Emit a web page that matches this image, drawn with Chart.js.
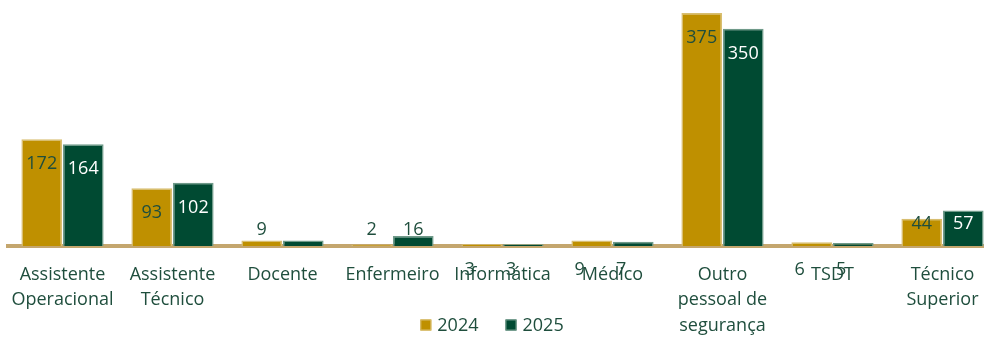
<!DOCTYPE html>
<html>
<head>
<meta charset="utf-8">
<script src="https://cdn.jsdelivr.net/npm/chart.js@4/dist/chart.umd.min.js"></script>
<style>
  html, body { margin: 0; padding: 0; background: #fff; overflow: hidden; }
  #wrap { position: relative; width: 1000px; height: 338px; }
</style>
</head>
<body>
<div id="wrap"><canvas id="chart"></canvas></div>
<script>
// Staff headcount per career group, 2024 vs 2025
const categories = [
  ['Assistente', 'Operacional'],
  ['Assistente', 'Técnico'],
  'Docente',
  'Enfermeiro',
  'Informática',
  'Médico',
  ['Outro', 'pessoal de', 'segurança'],
  'TSDT',
  ['Técnico', 'Superior']
];
const seriesNames = ['2024', '2025'];
const values2024 = [172, 93, 9, 2, 3, 9, 375, 6, 44];
const values2025 = [164, 102, 9, 16, 3, 7, 350, 5, 57];

// where each value label sits: inside the bar top, just above the axis, below the axis, or not drawn
const spots2024 = ['in', 'in', 'above', 'above', 'below', 'below', 'in', 'below', 'in'];
const spots2025 = ['in', 'in', 'none', 'above', 'below', 'below', 'in', 'below', 'in'];

const GOLD = '#BF9000';
const GREEN = '#004A32';
const INK = '#1F4E3D';
const FONT = '"Open Sans", "Noto Sans", sans-serif';

const valueLabels = {
  id: 'valueLabels',
  afterDraw(chart) {
    const ctx = chart.ctx;
    const spots = [spots2024, spots2025];
    ctx.save();
    ctx.font = '18px ' + FONT;
    ctx.textAlign = 'center';
    ctx.textBaseline = 'middle';
    chart.data.datasets.forEach((ds, di) => {
      const meta = chart.getDatasetMeta(di);
      meta.data.forEach((bar, i) => {
        const spot = spots[di][i];
        if (spot === 'none') return;
        let x = bar.x, y;
        if (spot === 'in') {
          y = Math.min(bar.y + 25, bar.base - 22);
        } else if (spot === 'above') {
          y = bar.base - 16;
        } else {
          y = bar.base + 24;
          x -= 12;
        }
        ctx.fillStyle = (di === 1 && spot === 'in') ? '#FFFFFF' : INK;
        ctx.fillText(String(ds.data[i]), x, y);
      });
    });
    ctx.restore();
  }
};

// legend row under the axis labels
const bottomLegend = {
  id: 'bottomLegend',
  afterDraw(chart) {
    const ctx = chart.ctx;
    ctx.save();
    ctx.font = '18px ' + FONT;
    ctx.textBaseline = 'middle';
    const box = 11, gap = 6, spacing = 27;
    const items = chart.data.datasets.map(ds => ({
      text: ds.label, fill: ds.backgroundColor, edge: ds.borderColor,
      w: box + gap + ctx.measureText(ds.label).width
    }));
    const total = items.reduce((s, it) => s + it.w, 0) + spacing * (items.length - 1);
    let x = 492 - total / 2;
    const y = 325;
    items.forEach(it => {
      ctx.fillStyle = it.fill;
      ctx.fillRect(x, y - box / 2, box, box);
      ctx.strokeStyle = it.edge;
      ctx.lineWidth = 1;
      ctx.strokeRect(x + 0.5, y - box / 2 + 0.5, box - 1, box - 1);
      ctx.fillStyle = INK;
      ctx.textAlign = 'left';
      ctx.fillText(it.text, x + box + gap, y + 1);
      x += it.w + spacing;
    });
    ctx.restore();
  }
};

new Chart(document.getElementById('chart').getContext('2d'), {
  type: 'bar',
  data: {
    labels: categories,
    datasets: [
      {
        label: seriesNames[0],
        data: values2024,
        backgroundColor: GOLD,
        borderColor: '#D8BE70',
        borderWidth: 1.5,
        categoryPercentage: 0.755,
        barPercentage: 0.98
      },
      {
        label: seriesNames[1],
        data: values2025,
        backgroundColor: GREEN,
        borderColor: '#6F9A89',
        borderWidth: 1.5,
        categoryPercentage: 0.755,
        barPercentage: 0.98
      }
    ]
  },
  options: {
    responsive: true,
    maintainAspectRatio: false,
    animation: false,
    events: [],
    layout: { padding: { left: 7.5, right: 2.5, top: 10, bottom: 0 } },
    plugins: {
      legend: { display: false },
      tooltip: { enabled: false }
    },
    scales: {
      x: {
        z: 1,
        grid: { display: false },
        border: { color: '#C4A66E', width: 4 },
        ticks: {
          color: INK,
          font: { family: FONT, size: 18, lineHeight: 1.42 },
          padding: 8,
          maxRotation: 0,
          autoSkip: false
        },
        afterFit(scale) { scale.height = 92; }
      },
      y: {
        display: false,
        min: 0,
        max: 380
      }
    }
  },
  plugins: [valueLabels, bottomLegend]
});
</script>
</body>
</html>
